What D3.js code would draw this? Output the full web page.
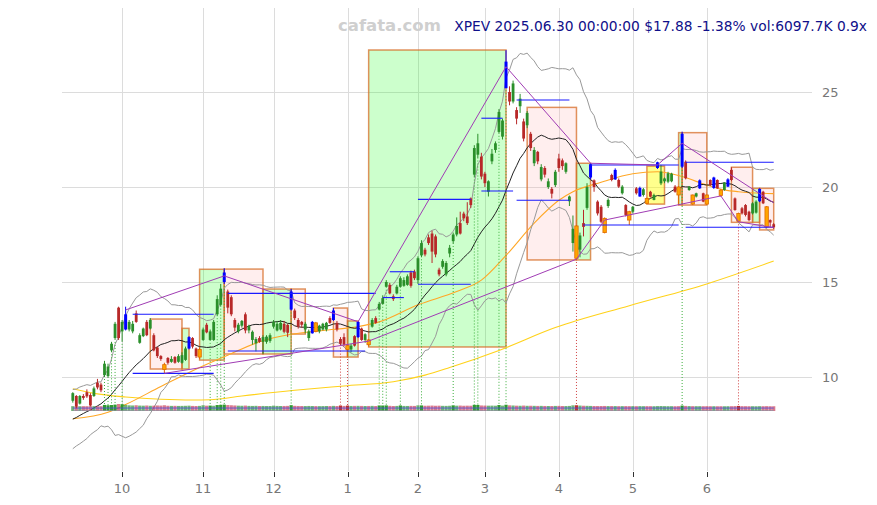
<!DOCTYPE html>
<html><head><meta charset="utf-8">
<script src="https://cdn.jsdelivr.net/npm/d3@7"></script>
<style>body{margin:0;background:#fff}svg{display:block;font-family:"DejaVu Sans",sans-serif}</style>
</head><body>
<svg id="c" width="877" height="505"></svg>
<script>
// ---- axis categories ----
const monthTickIdx = [14,37,57,78,98,117,138,159,180];
const monthLabels = ["10","11","12","1","2","3","4","5","6"];
const priceTicks = [10,15,20,25];

// ---- daily candles [open, high, low, close] (trading days, 2024-09-11 .. 2025-06-30) ----
const candlesSep = [[8.75,9.2,8.65,9.15],[9.0,9.05,8.35,8.45],[8.6,9.05,8.55,9.0],[9.0,9.1,8.8,8.9],[9.2,9.35,8.9,8.98],[9.05,9.15,8.45,8.5],[9.0,9.5,8.95,9.4],[9.7,9.9,9.35,9.45],[9.6,9.7,9.2,9.3],[10.1,10.85,10.0,10.7],[10.05,10.7,9.95,10.55],[11.4,11.85,11.3,11.75],[12.05,12.9,11.95,12.8],[13.65,13.7,11.95,12.05]];
const candlesOct = [[12.4,13.0,11.85,12.9],[12.5,13.7,12.45,13.3],[12.5,13.0,12.4,12.9],[12.4,12.95,12.3,12.8],[13.35,13.5,12.85,12.9],[11.8,12.3,11.75,12.2],[12.15,12.6,12.1,12.55],[12.9,13.0,12.15,12.2],[12.55,13.1,12.5,13.0],[12.2,12.3,11.35,11.4],[11.55,11.6,11.0,11.1],[11.1,11.15,10.85,10.95],[10.65,10.75,10.19,10.4],[11.0,11.05,10.65,10.75],[10.8,11.1,10.75,10.95],[11.05,11.1,10.7,10.75],[10.8,11.2,10.75,11.1],[10.75,11.3,10.7,11.15],[10.9,11.6,10.85,11.5],[11.5,12.15,11.45,12.1],[12.05,12.1,11.5,11.6],[11.5,11.55,11.0,11.1],[11.05,11.56,10.93,11.45]];
const candlesNov = [[11.95,12.6,11.9,12.5],[12.75,12.85,12.3,12.35],[11.95,12.5,11.9,12.4],[11.95,13.0,11.9,12.9],[13.3,14.3,13.2,14.1],[13.8,14.9,13.7,14.65],[15.0,15.72,14.9,15.5],[14.5,14.6,13.35,13.65],[14.2,14.3,13.2,13.3],[13.0,13.1,12.4,12.6],[12.4,12.85,12.3,12.75],[12.7,13.0,12.6,12.95],[13.3,13.4,12.3,12.45],[12.45,12.75,12.3,12.68],[11.95,12.45,11.7,12.38],[11.77,12.1,11.35,12.0],[12.05,12.15,11.8,11.85],[11.85,12.2,11.21,12.1],[11.85,12.2,11.75,12.12],[11.9,12.3,11.8,12.2]];
const candlesDec = [[12.65,13.0,12.55,12.9],[12.45,12.95,12.4,12.8],[12.5,13.0,12.45,12.85],[12.8,12.95,12.3,12.38],[12.74,12.8,12.1,12.33],[13.55,14.63,13.5,14.5],[13.5,13.6,13.0,13.1],[13.0,13.1,12.55,12.65],[12.9,12.95,12.6,12.75],[12.5,12.9,12.3,12.8],[12.05,12.5,11.9,12.4],[12.3,12.95,12.28,12.9],[12.85,12.9,12.35,12.4],[12.4,12.75,12.3,12.7],[12.5,12.85,12.45,12.8],[12.5,12.9,12.4,12.85],[13.1,13.2,12.8,12.85],[13.0,13.63,12.95,13.5],[12.85,12.95,12.4,12.5],[12.0,12.1,11.65,11.75],[12.1,12.3,11.6,11.7]];
const candlesJan = [[11.65,11.7,11.05,11.45],[11.45,11.75,11.3,11.65],[12.15,12.2,11.6,11.65],[12.1,12.95,12.05,12.9],[12.55,12.6,11.9,11.95],[11.95,12.3,11.8,12.25],[11.95,12.0,11.6,11.7],[12.65,13.1,12.6,13.0],[13.1,13.2,12.8,12.85],[13.55,13.95,13.5,13.85],[13.85,14.3,13.8,14.15],[14.75,15.1,14.7,15.0],[14.85,14.95,14.35,14.4],[14.25,14.35,14.0,14.1],[14.4,14.85,14.35,14.75],[14.75,15.3,14.7,15.2],[14.8,15.25,14.75,15.1],[14.85,15.4,14.8,15.3],[15.5,15.6,14.7,14.8],[15.55,15.65,15.1,15.2]];
const candlesFeb = [[15.1,16.35,14.9,16.25],[16.4,17.2,16.3,17.05],[16.7,16.8,16.35,16.45],[17.35,17.5,16.95,17.05],[17.55,17.7,16.0,16.6],[17.4,17.5,16.3,16.45],[15.65,15.75,15.3,15.4],[15.8,16.2,15.7,16.1],[15.4,16.1,15.3,16.0],[16.5,16.95,16.3,16.8],[17.15,17.6,17.0,17.5],[17.5,18.4,17.4,17.95],[18.1,18.7,17.5,17.55],[18.6,18.7,18.2,18.35],[18.45,19.2,18.0,18.1],[19.4,19.45,18.9,19.05],[20.65,22.2,20.5,22.05],[21.7,22.8,21.5,22.3],[21.6,21.8,20.4,20.55]];
const candlesMar = [[20.7,20.8,20.0,20.2],[19.75,20.35,19.5,20.3],[21.35,22.0,21.2,21.75],[21.95,22.4,21.8,22.3],[22.9,24.1,22.8,23.95],[22.65,23.6,22.5,23.5],[25.2,27.2,25.2,26.6],[25.0,25.3,24.3,24.5],[24.5,25.6,24.4,25.45],[24.05,24.2,23.3,23.6],[24.25,24.9,23.9,24.65],[23.45,23.6,22.4,22.55],[23.25,24.0,23.1,23.9],[22.8,22.9,21.9,22.05],[21.25,22.1,21.1,21.95],[21.85,21.9,21.2,21.35],[20.4,21.2,20.3,21.05],[21.0,21.1,20.5,20.65],[20.0,20.45,19.9,20.3],[19.9,20.0,19.4,19.65],[20.1,20.9,20.0,20.8]];
const candlesApr = [[21.5,21.75,20.8,21.0],[21.4,21.5,20.9,21.1],[20.8,21.3,20.7,21.25],[19.25,19.55,19.0,19.5],[17.05,18.5,16.6,17.8],[17.95,18.0,16.16,16.25],[16.7,17.6,16.3,17.45],[18.1,18.8,17.4,17.9],[18.9,20.2,18.8,20.0],[20.5,21.25,20.4,21.2],[20.35,20.4,19.75,20.0],[19.23,19.3,18.5,18.61],[18.96,19.05,18.1,18.17],[18.35,18.4,17.56,17.6],[19.0,19.4,18.9,19.32],[20.63,20.7,20.3,20.37],[20.4,20.98,20.37,20.9],[20.37,20.45,19.95,20.02],[19.67,20.1,19.6,20.02],[19.05,19.1,18.45,18.53],[18.7,18.75,18.0,18.26]];
const candlesMay = [[18.7,19.0,18.6,18.96],[19.93,20.0,19.6,19.67],[19.5,20.02,19.49,19.95],[19.58,19.95,19.5,19.88],[19.4,19.45,19.1,19.14],[19.75,19.8,19.45,19.49],[19.32,19.65,19.3,19.58],[21.0,21.33,20.95,21.3],[20.19,21.16,20.1,20.81],[20.3,20.5,20.2,20.45],[20.28,20.8,20.2,20.72],[20.3,20.75,20.25,20.7],[20.02,20.1,19.7,19.75],[20.0,20.05,19.05,19.58],[21.07,22.91,21.0,22.8],[21.33,21.4,20.4,20.46],[19.84,20.05,19.8,20.02],[19.58,19.6,19.05,19.1],[19.5,19.7,19.45,19.67],[19.93,20.4,19.9,20.35],[19.67,19.7,19.2,19.23]];
const candlesJun = [[19.58,19.6,19.05,19.1],[20.37,20.4,20.05,20.1],[19.95,20.54,19.9,20.5],[20.37,20.4,19.9,19.93],[19.84,19.9,19.49,19.55],[19.84,20.25,19.8,20.23],[20.02,20.46,20.0,20.4],[20.9,21.04,20.3,20.37],[19.4,19.45,18.75,18.79],[18.61,18.65,18.14,18.2],[18.88,18.95,18.55,18.61],[19.05,19.1,18.45,18.53],[18.7,18.75,18.2,18.26],[18.61,19.2,18.55,19.14],[18.65,19.3,18.6,19.23],[19.25,19.93,19.2,19.9],[19.75,19.8,19.1,19.14],[18.96,19.0,17.82,17.9],[18.26,18.3,17.9,18.13],[18.04,18.1,17.8,17.88]];

// closes before the window (needed for the 20-day average / bands at the left edge)
const priorCloses = [6.7,6.8,6.9,7.0,6.9,7.1,7.3,7.2,7.5,7.6,7.9,8.0,7.8,8.3,8.5,8.4,8.7,8.9,9.0];

// volume (millions)
const volumes = [8,9,7,8,7,9,8,7,9,38,30,35,45,60,
 55,40,28,25,30,22,20,24,18,20,25,22,30,18,15,16,14,15,17,20,14,12,15,
 30,20,22,18,35,40,45,35,30,25,20,18,22,15,14,16,12,13,11,12,
 20,14,12,13,15,32,16,13,12,11,13,12,10,9,10,12,11,15,12,24,14,
 22,13,15,16,14,12,13,15,12,25,24,26,16,12,14,25,14,13,15,14,
 28,26,18,20,22,18,20,16,15,18,28,20,22,18,20,19,40,38,25,
 22,20,21,19,35,22,42,28,24,20,18,22,17,18,16,14,15,13,12,12,14,
 15,12,11,14,28,30,22,18,16,14,12,11,12,13,10,11,10,9,9,10,9,
 9,8,9,8,9,8,7,10,12,9,8,8,7,9,22,14,10,9,8,8,7,
 8,7,7,6,7,6,7,8,10,14,9,8,7,7,6,8,7,9,6.5,6.1];

// highlighted candles
const blueIdx = [15,33,43,62,68,74,81,123,147,154,161,166,173,178,182,186,195];
const orangeIdx = [26,36,69,78,84,143,151,158,163,172,176,180,184,189,197];
const greenSignalIdx = [9,10,11,12,14,39,41,42,43,62,87,88,89,93,99,108,114,115,121,123,173];
const redSignalIdx = [76,78,143,189];

// boxes [startIdx, endIdx, low, high, kind]
const boxes = [[22,31,10.42,13.05,"p"],[31,33,10.42,12.56,"g"],[36,43,10.89,15.67,"g"],[43,54,11.21,15.68,"p"],[54,62,11.21,14.63,"g"],[62,66,12.26,14.63,"p"],[74,78,11.05,13.63,"p"],[78,81,11.05,12.95,"g"],[84,123,11.58,27.21,"g"],[129,143,16.16,24.19,"p"],[143,147,16.16,21.25,"g"],[163,168,19.1,21.1,"y"],[172,173,19.05,22.86,"g"],[173,180,19.05,22.86,"p"],[187,193,18.14,21.04,"p"],[193,195,18.14,19.93,"g"],[195,199,17.74,19.93,"p"]];

// horizontal levels [startIdx, endIdx, value]
const levels = [[17,40,13.3],[17,40,10.19],[44,86,14.4],[44,83,11.37],[90,97,15.54],[88,94,14.18],[98,113,19.35],[98,113,14.88],[116,122,23.62],[116,125,19.79],[126,141,24.58],[126,141,19.3],[147,172,21.16],[145,172,18.0],[174,199,21.3],[174,199,17.88]];

// zigzag trend lines [idx, value]
const upperZig = [[15,13.53],[43,15.32],[81,12.91],[123,26.33],[147,21.25],[166,21.16],[173,22.3],[199,19.17]];
const lowerZig = [[26,10.19],[84,11.89],[143,16.2],[151,18.26],[184,19.53],[189,18.17],[199,17.86]];

// long moving averages [idx, value]
const ma60Pts = [[0,7.8],[10,8.15],[15,8.55],[25,9.5],[36,10.5],[44,11.15],[53,11.85],[62,12.25],[71,12.45],[81,12.65],[87,12.9],[98,13.8],[109,14.5],[116,15.1],[123,16.4],[131,18.1],[138,19.3],[142,19.75],[150,20.25],[159,20.7],[166,20.8],[173,20.55],[180,20.1],[185,19.85],[189,19.75],[199,19.65]];
const ma200Pts = [[0,9.38],[6,9.14],[15,8.95],[25,8.83],[34,8.79],[39,8.8],[48,9.0],[63,9.3],[77,9.53],[91,9.75],[100,10.1],[107,10.5],[121,11.4],[137,12.6],[158,13.75],[180,14.9],[199,16.1]];

// ---------------- drawing ----------------
const svg = d3.select("#c");
const candles = [].concat(candlesSep,candlesOct,candlesNov,candlesDec,candlesJan,candlesFeb,candlesMar,candlesApr,candlesMay,candlesJun)
  .map((d,i)=>({i,o:d[0],h:d[1],l:d[2],c:d[3],v:volumes[i]}));
const N = candles.length;
const x = d3.scaleLinear().domain([0,N-1]).range([72.8,773.7]);
const y = d3.scaleLinear().domain([10,25]).range([377,92]);

// grid
const g0 = svg.append("g").attr("shape-rendering","crispEdges");
g0.selectAll("line.h").data(priceTicks).join("line")
  .attr("x1",62).attr("x2",812).attr("y1",d=>Math.round(y(d))+0.5).attr("y2",d=>Math.round(y(d))+0.5)
  .attr("stroke","#dcdcdc");
g0.selectAll("line.v").data(monthTickIdx).join("line")
  .attr("x1",d=>Math.round(x(d))+0.5).attr("x2",d=>Math.round(x(d))+0.5).attr("y1",8).attr("y2",471)
  .attr("stroke","#dcdcdc");
g0.selectAll("line.t").data(monthTickIdx).join("line")
  .attr("x1",d=>Math.round(x(d))+0.5).attr("x2",d=>Math.round(x(d))+0.5).attr("y1",472).attr("y2",477)
  .attr("stroke","#333");

// labels
svg.selectAll("text.m").data(monthTickIdx).join("text")
  .attr("x",d=>x(d)).attr("y",493).attr("text-anchor","middle")
  .attr("font-size",13).attr("fill","#777").text((d,i)=>monthLabels[i]);
svg.selectAll("text.p").data(priceTicks).join("text")
  .attr("x",822).attr("y",d=>y(d)+5).attr("font-size",13).attr("fill","#777").text(d=>d);

// boxes
const fills = {g:"rgba(0,255,0,0.2)",p:"rgba(255,170,170,0.2)",y:"rgba(255,255,0,0.45)"};
svg.append("g").selectAll("rect").data(boxes).join("rect")
  .attr("x",d=>x(d[0])).attr("width",d=>x(d[1])-x(d[0]))
  .attr("y",d=>y(d[3])).attr("height",d=>y(d[2])-y(d[3]))
  .attr("fill",d=>fills[d[4]]).attr("stroke","rgba(215,110,40,0.75)").attr("stroke-width",1.5);

// moving averages
const closesAll = priorCloses.concat(candles.map(d=>d.c));
const P = priorCloses.length;
const ma20=[], bbU=[], bbL=[];
candles.forEach((d,i)=>{
  const w = closesAll.slice(i+P-19,i+P+1);
  const m = d3.mean(w); const sd = Math.sqrt(d3.mean(w,v=>(v-m)*(v-m)));
  ma20.push([i,m]); bbU.push([i,m+2*sd]); bbL.push([i,m-2*sd]);
});
const line = d3.line().x(d=>x(d[0])).y(d=>y(d[1]));
const sline = d3.line().x(d=>x(d[0])).y(d=>y(d[1])).curve(d3.curveMonotoneX);
svg.append("path").attr("d",sline(ma200Pts)).attr("fill","none").attr("stroke","#ffd21a").attr("stroke-width",1.1);
svg.append("path").attr("d",sline(ma60Pts)).attr("fill","none").attr("stroke","#ffa726").attr("stroke-width",1.1);
svg.append("path").attr("d",line(bbU)).attr("fill","none").attr("stroke","#999").attr("stroke-width",1);
svg.append("path").attr("d",line(bbL)).attr("fill","none").attr("stroke","#999").attr("stroke-width",1);
svg.append("path").attr("d",line(ma20)).attr("fill","none").attr("stroke","#222").attr("stroke-width",1);

// volume
const vBase = 411;
const vh = d3.scaleLinear().domain([0,d3.max(volumes)]).range([4.5,7]);
const sig = new Set(greenSignalIdx.concat(redSignalIdx));
svg.append("g").selectAll("rect").data(candles).join("rect")
  .attr("x",d=>x(d.i)-1.6).attr("width",3.2)
  .attr("y",d=>vBase-vh(d.v)).attr("height",d=>vh(d.v))
  .attr("fill",d=>d.c>=d.o?(sig.has(d.i)?"#2e9a2e":"rgba(50,150,60,0.7)"):(sig.has(d.i)?"#c03030":"rgba(200,50,80,0.65)"));
const volMA = candles.map((d,i)=>[i,d3.mean(volumes.slice(Math.max(0,i-19),i+1))]);
svg.append("path").attr("d",d3.line().x(d=>x(d[0])).y(d=>vBase-2.8-vh(d[1])*0.03)(volMA))
  .attr("fill","none").attr("stroke","#4c4cdc").attr("stroke-width",1).attr("opacity",0.85);
svg.append("line").attr("x1",x(0)).attr("x2",x(N-1)).attr("y1",vBase-0.6).attr("y2",vBase-0.6)
  .attr("stroke","#9090a0").attr("stroke-width",1).attr("opacity",0.8);

// signal dotted lines
const sigData = greenSignalIdx.map(i=>({i,col:"#3cae3c"})).concat(redSignalIdx.map(i=>({i,col:"#d04040"})));
svg.append("g").selectAll("line").data(sigData).join("line")
  .attr("x1",d=>x(d.i)).attr("x2",d=>x(d.i)).attr("y1",d=>y(candles[d.i].l)+2).attr("y2",405)
  .attr("stroke",d=>d.col).attr("stroke-width",1).attr("stroke-dasharray","1,2");

// candles
const blueSet = new Set(blueIdx), orangeSet = new Set(orangeIdx);
const cg = svg.append("g");
candles.forEach(d=>{
  let col = d.c>=d.o ? "#2a8f2a" : "#b82828";
  let w = 2.8, stroke = null;
  if (blueSet.has(d.i)) { col = "#0000ff"; w = 3; }
  if (orangeSet.has(d.i)) { col = "#ffa500"; w = 3.4; stroke = "#e06a00"; }
  cg.append("line").attr("x1",x(d.i)).attr("x2",x(d.i)).attr("y1",y(d.h)).attr("y2",y(d.l))
    .attr("stroke",stroke||col).attr("stroke-width",1);
  const top = y(Math.max(d.o,d.c)), bot = y(Math.min(d.o,d.c));
  const r = cg.append("rect").attr("x",x(d.i)-w/2).attr("width",w)
    .attr("y",top).attr("height",Math.max(1,bot-top)).attr("fill",col);
  if (stroke) r.attr("stroke",stroke).attr("stroke-width",0.8);
});

// levels
svg.append("g").selectAll("line").data(levels).join("line")
  .attr("x1",d=>x(d[0])).attr("x2",d=>x(d[1])).attr("y1",d=>y(d[2])).attr("y2",d=>y(d[2]))
  .attr("stroke","#1a1aff").attr("stroke-width",1.1);

// zigzags
svg.append("path").attr("d",line(upperZig)).attr("fill","none").attr("stroke","#a03cb4").attr("stroke-width",1);
svg.append("path").attr("d",line(lowerZig)).attr("fill","none").attr("stroke","#a03cb4").attr("stroke-width",1);

// header
svg.append("text").attr("x",338).attr("y",31).attr("font-size",16.5).attr("font-weight","bold")
  .attr("fill","#cfcfcf").text("cafata.com");
svg.append("text").attr("x",867).attr("y",31).attr("text-anchor","end").attr("font-size",13.8)
  .attr("fill","#10108a").text("XPEV 2025.06.30 00:00:00 $17.88 -1.38% vol:6097.7K 0.9x");
</script>
</body></html>
